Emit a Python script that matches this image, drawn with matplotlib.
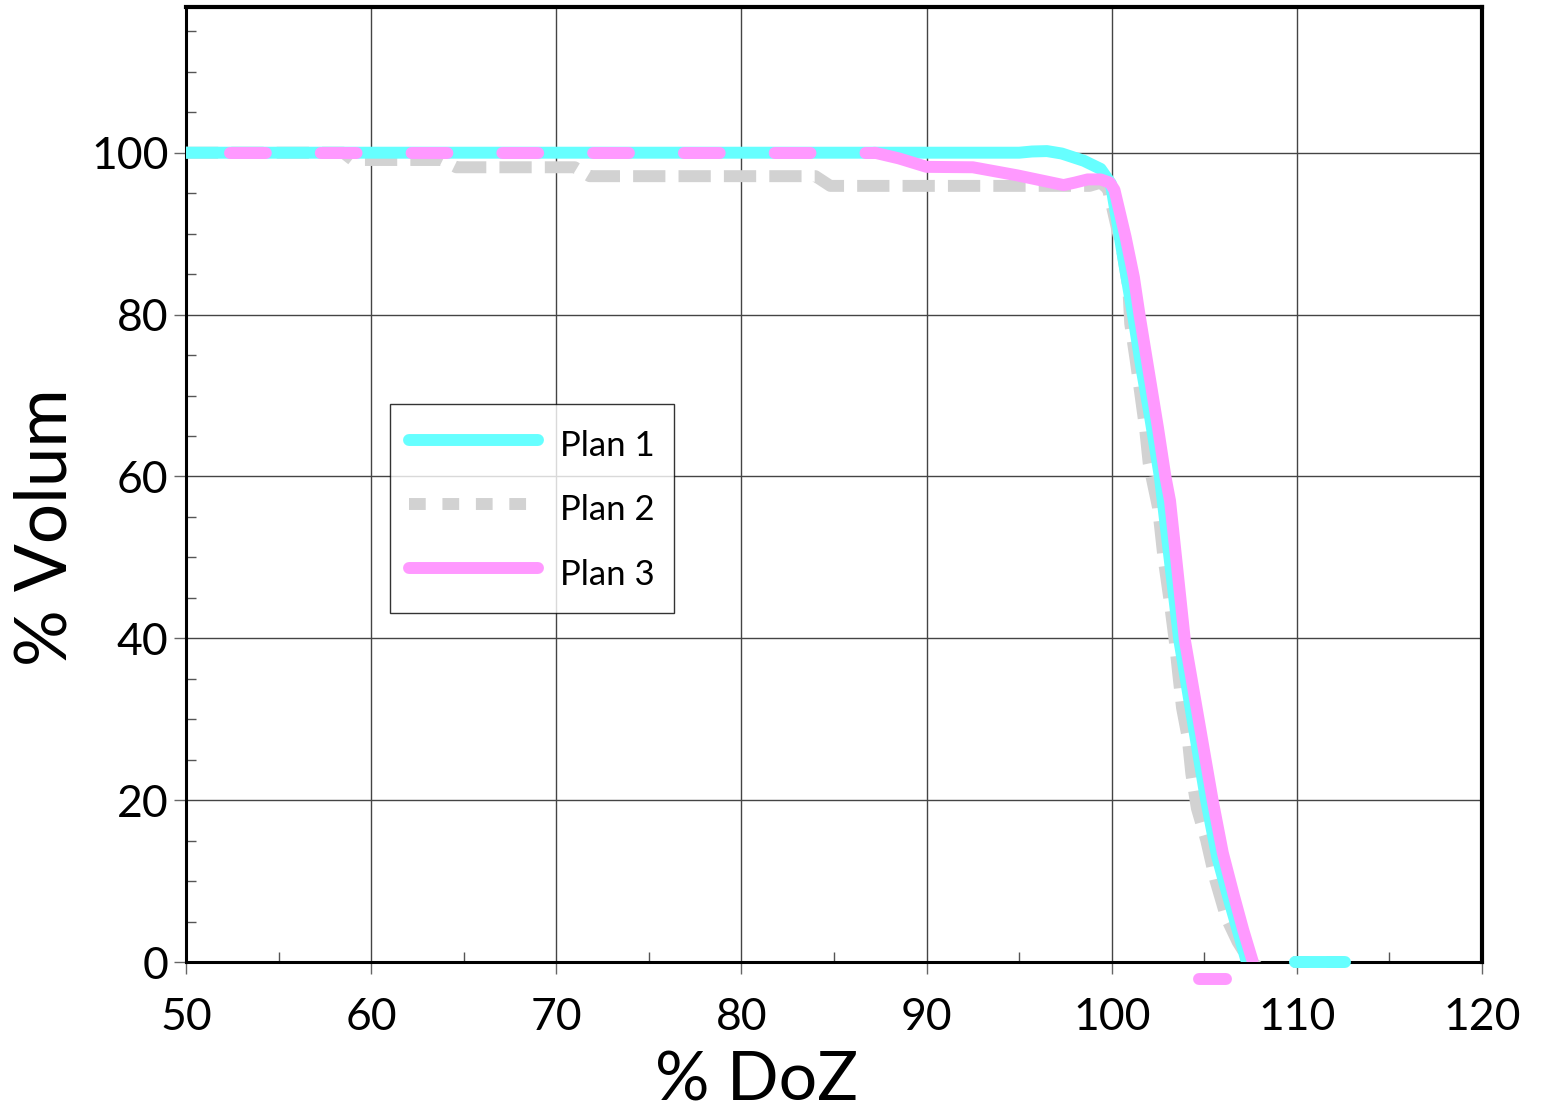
import matplotlib
matplotlib.use("Agg")
import matplotlib.pyplot as plt
from matplotlib.lines import Line2D
from matplotlib.ticker import MultipleLocator

plt.rcParams['font.family'] = ['Lato', 'DejaVu Sans']

# dose-volume data
plan1_x = [50, 95.0, 95.7, 96.5, 97.3, 98.5, 99.4, 99.95, 100.3, 100.7, 101.15, 101.6,
           102.1, 102.6, 103.1, 103.65, 104.4, 105.1, 105.7, 106.3, 106.8, 107.3]
plan1_y = [100, 100, 100.15, 100.2, 99.9, 99.0, 98.0, 96.2, 91.5, 86, 80, 73.5,
           67, 60, 50.4, 39.8, 29.5, 20, 13, 8, 4, 0]

plan2_x = [50, 58.5, 59.0, 63.8, 64.6, 71.0, 71.8, 84.0, 84.8, 98.8, 99.4, 99.8,
           100.1, 100.6, 100.9, 101.0, 101.3, 101.5, 101.8, 102.0, 102.5, 102.8,
           103.1, 103.4, 103.6, 103.8, 104.1, 104.3, 104.6, 105.1, 105.6, 106.2,
           106.8, 107.4, 107.9]
plan2_y = [100, 100, 99.1, 99.1, 98.2, 98.2, 97.1, 97.1, 95.9, 95.9, 96.3, 95.5,
           92.5, 87.5, 83.3, 78.9, 74.3, 71.0, 66.0, 61.6, 56.2, 49.9,
           45.1, 39.8, 35.5, 31.4, 27.8, 23.3, 19.0, 15.1, 10.1, 5.4,
           2.5, 0.3, -0.6]

plan3_x = [52.4, 87.2, 88.5, 90.0, 92.5, 94.9, 97.4, 98.0, 98.7, 99.4, 99.9, 100.15,
           100.75, 101.2, 101.5, 102.0, 102.5, 102.9, 103.15, 103.5, 103.95, 104.7,
           105.45, 106.0, 106.6, 107.1, 107.6]
plan3_y = [100, 100, 99.3, 98.25, 98.2, 97.2, 96.0, 96.3, 96.7, 96.7, 96.3, 95.4,
           89.6, 84.6, 80, 73, 66, 60, 57, 49.5, 39.8, 29.9,
           20, 13.5, 8.2, 4, 0.2]

# stray pieces drawn past the curves' ends
plan1_tail_x = [109.9, 112.6]
plan1_tail_y = [0, 0]
plan2_tail_x = [109.8, 112.7]
plan2_tail_y = [0, 0]
plan3_tail_x = [104.7, 106.2]
plan3_tail_y = [-2.1, -2.1]

labels = ['Plan 1', 'Plan 2', 'Plan 3']
c1 = '#66ffff'
c2 = '#d2d2d2'
c3 = '#ff99ff'
lw = 8.6

fig = plt.figure(figsize=(15.52, 11.14), dpi=100)
ax = fig.add_axes([0.1198, 0.1364, 0.8351, 0.8573])

ax.plot(plan2_x, plan2_y, color=c2, lw=lw, dashes=(2.7, 1.1), dash_capstyle='butt', zorder=3)
ax.plot(plan2_tail_x, plan2_tail_y, color=c2, lw=lw, dashes=(1.4, 1.4), zorder=3, clip_on=False)

ax.plot(plan1_x, plan1_y, color=c1, lw=lw, solid_capstyle='round', solid_joinstyle='round', zorder=4)
ax.plot(plan1_tail_x, plan1_tail_y, color=c1, lw=lw, solid_capstyle='round', zorder=4, clip_on=False)

# plateau of plan 3 shows up interleaved with plan 1
ax.plot(plan3_x[:2], plan3_y[:2], color=c3, lw=lw, dashes=(3.0, 4.6), dash_capstyle='round', zorder=5)
ax.plot(plan3_x[1:], plan3_y[1:], color=c3, lw=lw, solid_capstyle='round', solid_joinstyle='round', zorder=5)
ax.plot(plan3_tail_x, plan3_tail_y, color=c3, lw=lw, solid_capstyle='round', zorder=5, clip_on=False)

ax.set_xlim(50, 120)
ax.set_ylim(0, 118)
ax.xaxis.set_major_locator(MultipleLocator(10))
ax.xaxis.set_minor_locator(MultipleLocator(5))
ax.yaxis.set_major_locator(MultipleLocator(20))
ax.yaxis.set_minor_locator(MultipleLocator(5))

ax.grid(True, which='major', color='#444444', lw=1.0, zorder=1)
ax.tick_params(which='major', direction='out', length=8.5, width=1, color='#666666',
               labelsize=32, pad=17)
ax.tick_params(axis='y', which='major', pad=4)
ax.tick_params(which='minor', direction='in', length=7, width=1, color='#555555')

ax.spines['left'].set_linewidth(2.2)
ax.spines['bottom'].set_linewidth(2.2)
ax.spines['top'].set_linewidth(3)
ax.spines['right'].set_linewidth(3)

ax.set_xlabel('% DoZ', fontsize=49)
ax.xaxis.set_label_coords(0.44, -0.093)
ax.set_ylabel('% Volum', fontsize=51)
ax.yaxis.set_label_coords(-0.083, 0.455)

handles = [Line2D([], [], color=c1, lw=lw, solid_capstyle='round'),
           Line2D([], [], color=c2, lw=lw, dashes=(1.4, 1.4)),
           Line2D([], [], color=c3, lw=lw, solid_capstyle='round')]
leg = ax.legend(handles, labels, loc='upper left', bbox_to_anchor=(0.1575, 0.584),
                fontsize=25, frameon=True, fancybox=False, edgecolor='black',
                handlelength=3.7, handleheight=1.5, labelspacing=0.63, borderpad=0.55,
                handletextpad=0.65, borderaxespad=0)
leg.get_frame().set_linewidth(1.0)

fig.savefig('out.png', dpi=100)
